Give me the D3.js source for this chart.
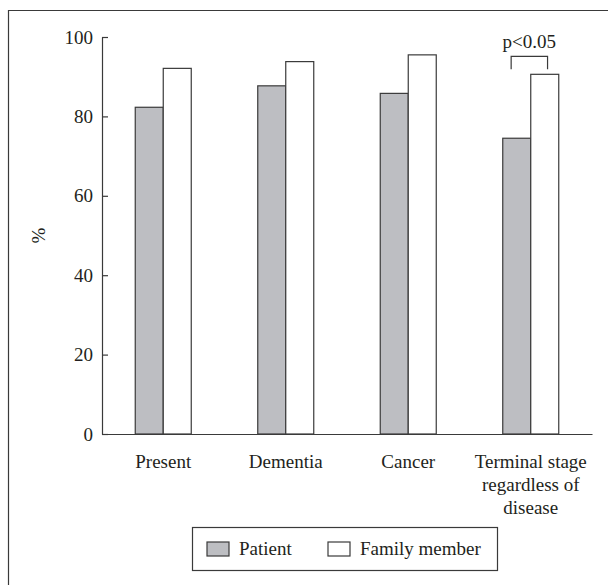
<!DOCTYPE html>
<html>
<head>
<meta charset="utf-8">
<script src="https://cdn.jsdelivr.net/npm/d3@7"></script>
</head>
<body style="margin:0; background:#fff">
<div id="canvas"></div>
<script>
const categories = [['Present'], ['Dementia'], ['Cancer'], ['Terminal stage', 'regardless of', 'disease']];
const series = ['Patient', 'Family member'];
const patient = [82.3, 87.7, 85.8, 74.5];
const family = [92.1, 93.8, 95.5, 90.6];
const yTicks = [0, 20, 40, 60, 80, 100];
const colors = ['#bdbec2', '#ffffff'];

const w = 608;
const h = 585;
const ink = '#3a3a3a';
const textColor = '#231f20';
const font = '"Liberation Serif"';

const svg = d3.select('#canvas')
  .append('svg')
  .attr('width', w)
  .attr('height', h);

// outer frame (open at right and bottom)
svg.append('path')
  .attr('d', 'M8.5,' + h + 'V10.5H' + w)
  .attr('fill', 'none')
  .attr('stroke', ink)
  .attr('stroke-width', 1.2);

const keys = categories.map((d, i) => i);

const x = d3.scaleBand()
  .domain(keys)
  .range([102, 592])
  .padding(0);

const x1 = d3.scaleBand()
  .domain(series)
  .range([0, x.bandwidth()])
  .paddingInner(0)
  .paddingOuter(1.1875);

const y = d3.scaleLinear()
  .domain([0, 100])
  .range([434, 37]);

const rows = keys.map(i => [patient[i], family[i]]);

const groups = svg.selectAll('g.group')
  .data(rows)
  .enter()
  .append('g')
  .attr('class', 'group')
  .attr('transform', (d, i) => 'translate(' + x(i) + ',0)');

groups.selectAll('rect')
  .data(d => d.map((v, j) => ({ key: series[j], value: v, j: j })))
  .enter()
  .append('rect')
  .attr('x', d => x1(d.key))
  .attr('y', d => y(d.value))
  .attr('width', x1.bandwidth())
  .attr('height', d => y(0) - y(d.value))
  .attr('fill', d => colors[d.j])
  .attr('stroke', ink)
  .attr('stroke-width', 1.2);

// y axis with inward ticks
const yAxis = d3.axisLeft(y)
  .tickValues(yTicks)
  .tickSizeInner(-6)
  .tickSizeOuter(0)
  .tickPadding(9);

const gy = svg.append('g')
  .attr('transform', 'translate(102,0)')
  .call(yAxis)
  .attr('font-family', font)
  .attr('font-size', 19);
gy.selectAll('path, line').attr('stroke', ink).attr('stroke-width', 1.2);
gy.selectAll('text').attr('fill', textColor).attr('font-family', font);

// x axis baseline
const xAxis = d3.axisBottom(x).tickSize(0).tickFormat('');
const gx = svg.append('g')
  .attr('transform', 'translate(0,' + y(0) + ')')
  .call(xAxis);
gx.select('path').attr('stroke', ink).attr('stroke-width', 1.2);

// category labels
svg.selectAll('text.cat')
  .data(categories)
  .enter()
  .append('text')
  .attr('class', 'cat')
  .attr('text-anchor', 'middle')
  .attr('font-family', font)
  .attr('font-size', 19)
  .attr('fill', textColor)
  .each(function(lines, i) {
    const t = d3.select(this);
    lines.forEach((line, k) => {
      t.append('tspan')
        .attr('x', x(i) + x.bandwidth() / 2)
        .attr('y', y(0) + 34 + k * 23)
        .text(line);
    });
  });

// y label
svg.append('text')
  .attr('transform', 'translate(45,' + y(50) + ') rotate(-90)')
  .attr('text-anchor', 'middle')
  .attr('font-family', font)
  .attr('font-size', 19)
  .attr('fill', textColor)
  .text('%');

// significance bracket on last group
const last = keys.length - 1;
const bx0 = x(last) + x1('Patient') + x1.bandwidth() * 0.3;
const bx1 = x(last) + x1('Family member') + x1.bandwidth() * 0.6;
const bTop = y(family[last] + 4.5);
const bBot = y(family[last] + 1.3);
svg.append('path')
  .attr('d', 'M' + bx0 + ',' + bBot + 'V' + bTop + 'H' + bx1 + 'V' + bBot)
  .attr('fill', 'none')
  .attr('stroke', ink)
  .attr('stroke-width', 1.2);
svg.append('text')
  .attr('x', (bx0 + bx1) / 2)
  .attr('y', bTop - 8)
  .attr('text-anchor', 'middle')
  .attr('font-family', font)
  .attr('font-size', 19)
  .attr('fill', textColor)
  .text('p<0.05');

// legend
const legend = svg.append('g').attr('transform', 'translate(192,527)');
legend.append('rect')
  .attr('x', 0.5).attr('y', 0.5)
  .attr('width', 305).attr('height', 43)
  .attr('fill', '#fff')
  .attr('stroke', ink)
  .attr('stroke-width', 1.2);
const legX = [15, 136];
series.forEach((s, j) => {
  legend.append('rect')
    .attr('x', legX[j]).attr('y', 15)
    .attr('width', 22).attr('height', 14)
    .attr('fill', colors[j])
    .attr('stroke', ink)
    .attr('stroke-width', 1.2);
  legend.append('text')
    .attr('x', legX[j] + 32)
    .attr('y', 28)
    .attr('font-family', font)
    .attr('font-size', 19)
    .attr('fill', textColor)
    .text(s);
});
</script>
</body>
</html>
